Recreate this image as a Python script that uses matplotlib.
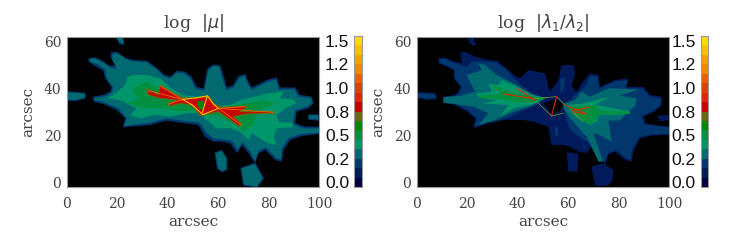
import matplotlib
matplotlib.use("Agg")
import matplotlib.pyplot as plt
import numpy as np

# contour outlines, in arcsec
mu_blue = [(8.6,52.8),(10.6,53.3),(13.9,52.1),(16.5,49.9),(19.2,49.7),(17.4,53.2),(17.4,55.3),(19.8,55.6),(23.1,53.2),(26.4,52.1),(31.7,51.8),(35.7,48.8),(38.3,46.1),(41,45),(43.6,47.5),(46.9,47.1),(49.5,45),(51.5,40.7),(54.2,40),(55.7,48.5),(58.1,50.2),(60.8,49.9),(62.1,45.7),(63.4,40.4),(65.8,41.4),(68,45.3),(70.7,46.1),(72,42.9),(73.3,40.4),(79.3,43.6),(83.2,44.7),(84.5,40.4),(90.5,40.4),(92.5,37.2),(97.1,36.5),(97.8,33.6),(95.8,31.5),(91.1,30.1),(90.5,25.1),(94.5,23.7),(100,23.7),(100,20.6),(93.1,19.7),(88.5,18),(85.9,13.8),(85.2,8.8),(82.6,9.5),(78.6,13.8),(76,12.4),(74.6,8.1),(72,12.4),(69.4,15.9),(67.6,12.4),(64.7,16.6),(61.4,17.3),(58.1,17.3),(54.8,19.4),(52.2,24.4),(46.9,25.1),(39.6,26.3),(33,24.4),(22.2,23.4),(23.1,27.2),(19.8,30.8),(14.5,33.3),(10.6,34.3),(10.3,36.5),(14.5,37.2),(17.2,38.6),(17.8,40.4),(15.2,44.3),(14.5,47.5),(11.2,49.5),(8.6,51.4)]
mu_teal = [(9.2,52.4),(11.2,52.8),(14.5,50.9),(17.8,48.5),(19.8,48.5),(18.1,52.1),(18.2,54.6),(20.1,54.9),(23.5,52.4),(26.4,51.4),(31.7,51.1),(35.4,48.2),(38.3,45.3),(41,44.1),(43.6,46.7),(46.5,46.4),(49.1,44.1),(50.9,40),(54.4,39),(56.1,47.8),(58.1,49.5),(60.5,49.2),(61.4,45.3),(63.1,39.3),(66,40.4),(68.4,44.4),(70.4,45.3),(71.6,42.1),(73.3,39.3),(79.3,42.7),(83,43.8),(83.9,39.6),(90.1,39.6),(91.8,36.5),(96.7,35.8),(97.1,33.9),(95.1,32.2),(90.5,30.8),(89.6,24.8),(93.8,22.9),(100,22.9),(100,21.1),(92.9,20.6),(87.8,18.7),(85.2,14.5),(84.8,9.8),(83,10.5),(78.9,14.9),(76,13.5),(74.6,9.2),(72.4,13.5),(69.6,17.3),(67.8,13.8),(65.4,17.7),(61.8,18.3),(58.1,18.7),(55.5,20.9),(52.8,25.4),(46.9,26.1),(39.6,27.2),(33,25.4),(22.7,24),(23.8,27.2),(20.5,31.5),(15.2,33.9),(11.2,35),(11,35.9),(15.2,36.6),(17.8,38.2),(18.5,40.4),(15.9,44.3),(15.2,48.1),(11.9,50.4),(9.2,51.4)]
mu_seagreen = [(23.8,44.7),(26.4,45.7),(31.7,45.7),(37,44.3),(41,40.4),(45.6,37.2),(51.5,36.5),(56.1,36.5),(59.4,32.5),(64.7,32.9),(68.7,35),(74.6,36.5),(79.3,37.9),(85.9,38.6),(84.5,35.8),(89.8,35.3),(90.9,33.6),(87.2,31.9),(83.2,28.7),(83.9,25.8),(89.8,25.1),(89.2,23.4),(83.2,23),(81.9,19.4),(83.2,15.9),(79.9,16.6),(76.6,18.7),(73.3,20.9),(72,18),(68.7,21.6),(64.7,23),(59.4,23),(55.5,26.5),(52.8,29.4),(47.6,29.4),(41,28),(34.3,28.7),(29.1,27.2),(25.1,28.7),(27.7,31.5),(21.1,35),(15.9,35.8),(18.5,37.2),(22.5,40.7),(23.8,42.9)]
mu_green = [(26.4,40),(31.7,42.9),(36.3,40),(41,37.2),(47.6,35),(52.8,35),(58.1,32.9),(63.4,31.9),(71.3,33.6),(77.9,35),(83.2,33.6),(77.9,31.5),(75.3,28.7),(74,24.4),(70,21.6),(66,25.1),(60.8,28),(55.5,28.7),(51.5,30.8),(44.9,30.1),(38.3,31.5),(30.4,31.5),(23.8,33.6),(29.1,35.8),(26.4,37.9)]
mu_red = [(31.7,40),(36.3,37.2),(37,41.4),(42.3,37.9),(46.2,35.8),(54.2,36.2),(56.1,36.9),(58.1,33.6),(60.8,31.9),(66,32.2),(72,32.5),(68.7,30.1),(81.9,30.1),(81.9,29.4),(71.3,29.1),(66,28),(69.4,24.8),(68,24),(63.4,27.7),(60.1,30.1),(54.2,28.7),(52.8,28.4),(49.5,32.9),(44.9,33.6),(41,32.5),(40.3,33.6),(43.6,35),(37,35.8),(32.4,37.2)]
mu_hole = [(51.5,34.5),(54.5,34.8),(53.8,31),(52.5,31)]
mu_blobs = [
    [(19.8,61.7),(22.2,61.7),(22.7,58.7),(20.9,59.2)],
    [(0,38.6),(7.3,37.9),(7.3,35.8),(3.3,34.8),(0,35)],
    [(95.8,28.7),(99.7,28.7),(99.7,26.5),(95.8,26.8)],
    [(58.8,12.6),(61.4,13.5),(63.4,10.2),(63.4,5.3),(61.4,4.6),(59.7,6)],
    [(69,6),(74.6,8.1),(77.9,1.7),(75.3,-2),(70,-1.1)],
]
mu_ridges_orange = [
    [(32.4,39),(45.8,35.3)],
    [(37,41),(45.8,35.3)],
    [(40.3,33.3),(45.8,35.3)],
    [(60.1,31.5),(81.9,29.8)],
    [(60.1,31.5),(70.7,32.2)],
    [(60.1,31.5),(69,24.5)],
]
mu_ridges_yellow = [
    [(45.8,35.3),(50.9,35.9),(55.7,36.8),(58.1,33.3),(60.1,31.5),(53.9,28.8),(49.8,32.9),(45.8,35.3)],
    [(55.7,36.8),(53.6,29.4)],
]

lam_navy = [(8.6,52.8),(11.2,53.2),(15.2,51.4),(17.9,50.7),(17.2,55.2),(19.2,55.6),(23.1,53.5),(28.4,52.1),(31.7,51.8),(35.7,48.5),(38.4,45.7),(41,44.3),(44.3,47.8),(50.9,46.4),(52.1,40.7),(52.8,38.6),(56.1,43.6),(57.4,49.9),(62,49.9),(62.7,46.4),(61.4,40.7),(63.4,38.6),(65.3,42.1),(68.6,46.4),(72,45.7),(72.6,40.7),(78.6,43.6),(83.9,44.3),(83.2,40.7),(89.8,40.7),(92.5,37.2),(97.1,36.5),(97.1,32.9),(94.4,30.1),(89.8,28),(90.9,24.8),(100,23.7),(100,20.2),(93.1,19.9),(88.5,18.7),(85.8,13.1),(85.2,8.8),(82.5,9.5),(78.6,13.1),(75.9,11.7),(74.6,7.4),(72.6,10.9),(69.3,15.2),(67.3,12.4),(64,13.1),(60.7,15.2),(58.1,15.9),(53.4,15.9),(52.1,23.7),(46.3,25.8),(42.3,26.5),(34.4,26.5),(27.8,24.8),(22.5,23),(23.1,27.2),(19.8,30.1),(15.2,32.9),(10.6,33.9),(10.3,36.5),(15.2,37.2),(16.5,38.6),(17.2,40.7),(14.6,44.3),(14.6,47.8),(11.2,49.5),(8.6,50.7)]
lam_blue_left = [(9,52.4),(11.2,52.6),(15.2,50.7),(19.8,49.2),(21.8,51.4),(28.4,51.4),(31.7,50.9),(35.7,47.8),(39.7,42.9),(45.6,37.9),(50.9,35.8),(47.6,32.9),(42.3,30.8),(35.7,27.2),(27.8,25.4),(22.8,23.7),(23.8,27.2),(20.5,30.5),(15.2,33.3),(10.8,34.3),(10.8,36.2),(15.2,36.8),(17.2,38.6),(17.9,40.7),(15.2,44.3),(14.9,48.1),(11.6,49.9),(9,50.9)]
lam_blue_right = [(58.7,32.9),(62,36.5),(66.7,40.7),(68.6,45.3),(71.6,45),(72.3,40),(78.6,42.9),(83.5,43.6),(82.5,40),(89.5,40),(92.2,36.5),(96.7,35.8),(96.4,32.9),(93.8,30.5),(89.1,28.2),(90.1,24.8),(100,23.4),(100,20.6),(93.1,20.4),(88.2,19.4),(85.2,13.8),(84.8,9.5),(82.9,10.2),(79,13.8),(75.9,12.6),(74.6,8.4),(70,15.9),(66,18),(60.7,22.3),(58.7,28.7)]
lam_teal_left = [(10.6,36.2),(17.2,36.8),(23.1,38.6),(19.8,45.7),(25.8,47.8),(24.5,50.7),(27.1,49.9),(31.7,45.7),(38.4,42.1),(45,37.9),(50.9,35.8),(45.6,32.5),(38.4,30.1),(31.1,26.5),(24.5,24.4),(28.4,29.4),(22.5,32.2),(15.9,33.2),(10.6,33.9)]
lam_teal_right = [(58.1,33.6),(62.7,35),(65.3,38.6),(68.6,36.5),(75.9,40),(87.8,39.6),(80.5,36.8),(87.2,35.8),(86.5,32.5),(81.9,28),(80.5,26.3),(75.9,26.3),(77.2,17.3),(72.6,20.2),(70,20.9),(73.9,8.8),(72,8.8),(67.3,19.4),(60.7,27.3),(58.1,31.5)]
lam_seagreen_left = [(23.8,37.9),(29.8,38.6),(28.4,42.1),(32.4,41.4),(33.7,43.6),(39.7,40.7),(45.6,37.2),(50.9,35.8),(45.6,33.2),(38.4,31.5),(33.1,28.2),(36.4,32.9),(25.8,33.6),(31.7,34.8),(24.5,36.2)]
lam_seagreen_right = [(59.4,32.9),(66,33.6),(76.6,36.5),(70.6,33),(84.5,30.1),(81.9,28.7),(72,28.7),(71.3,25.8),(68.6,24.4),(62,28.7)]
lam_green_left = [(24.5,36.8),(33.7,37.6),(29.4,41.7),(35,39.3),(39.7,37.9),(45.6,36.5),(51.3,35.8),(45.6,33.9),(39.7,34.1),(32.4,35.5),(25.1,35.8)]
lam_green_right = [(60,32.2),(66,32.5),(70.6,32.9),(72.6,30.5),(84.5,30.1),(84.5,29.1),(72,28.7),(69.3,24.4),(64,27.3)]
lam_hole = [(50.1,33.6),(55.4,35.8),(58.1,32.9),(56.7,30.1),(53.4,29.1)]
lam_navy_blobs = [
    [(19.8,61.3),(22.5,61.3),(23.5,58),(21.2,58.9)],
    [(95.4,28.4),(99.7,28.7),(99.7,26.5),(96.2,25.9)],
    [(59.4,12.8),(64,12.2),(63.6,4.6),(60,4.6)],
    [(69.3,6.7),(73.9,8.1),(77.9,5.3),(77.6,1),(75.9,-1.4),(70.6,-1.4)],
]
lam_blue_blobs = [
    [(0,38.2),(7.3,37.9),(7.7,35.5),(4,35.3),(0,36.2)],
    [(56.7,44.3),(59.1,45),(58.3,38.6),(56.7,37.9)],
    [(54.5,23.7),(56.2,23.7),(56.1,19.4),(54.6,19.7)],
    [(65.3,17.6),(67.3,14.3),(66.7,13.6),(64.9,17)],
]
lam_red_lines = [
    [(34.7,37.6),(46.3,35.5)],
    [(39.7,40),(47,34.8)],
    [(58.7,32.9),(66.7,29.4)],
    [(61.4,30.5),(68.6,32)],
    [(62,30),(67.3,29)],
    [(55.4,36.5),(53.4,28.2)],
]
lam_thin_lines = [
    [(46.3,35.6),(55.4,36.5),(58.7,32.9)],
    [(47.6,34.3),(53.4,28.2),(58.3,29.5)],
    [(62,30),(66,25.8)],
]

# colour table, one band per 0.1
bar_levels = np.arange(-0.05, 1.6, 0.1)
bar_colors = ['#00003c', '#001a5c', '#00386e', '#006a70', '#00966a', '#009040', '#008800', '#6a6a10',
              '#c80000', '#e02800', '#d84400', '#e86000', '#f08800', '#f8a000', '#ffc000', '#ffdc00']
bar_ticks = [0.0, 0.25, 0.5, 0.75, 1.0, 1.25, 1.5]
bar_labels = ['0.0', '0.2', '0.5', '0.8', '1.0', '1.2', '1.5']
x_ticks = [0, 20, 40, 60, 80, 100]
y_ticks = [0, 20, 40, 60]

W, H = 738., 245.
fig = plt.figure(figsize=(7.38, 2.45), dpi=100, facecolor='w')
text_col = '#444444'


def pos(x0, y0, x1, y1):
    return [x0 / W, 1 - y1 / H, (x1 - x0) / W, (y1 - y0) / H]


def make_panel(x0, bar_x0, title):
    ax = fig.add_axes(pos(x0, 36.7, x0 + 252.5, 187))
    ax.set_facecolor('k')
    ax.set_xlim(0, 100)
    ax.set_ylim(-2, 62)
    ax.set_xticks(x_ticks)
    ax.set_yticks(y_ticks)
    ax.tick_params(length=0, labelcolor=text_col, labelsize=10)
    ax.tick_params(axis='x', pad=7)
    ax.tick_params(axis='y', pad=4)
    for lab in ax.get_xticklabels() + ax.get_yticklabels():
        lab.set_family('DejaVu Serif')
    for s in ax.spines.values():
        s.set_color('#999999')
        s.set_linewidth(0.8)
    ax.set_xlabel('arcsec', family='DejaVu Serif', fontsize=11, color=text_col, labelpad=3)
    ax.set_ylabel('arcsec', family='DejaVu Serif', fontsize=11, color=text_col, labelpad=6)
    ax.set_title(title, family='DejaVu Serif', fontsize=12.5, color=text_col, pad=6)

    cax = fig.add_axes(pos(bar_x0, 36, bar_x0 + 7.5, 187))
    z = np.array([(bar_levels[:-1] + bar_levels[1:]) / 2]).T
    cax.pcolormesh([0, 1], bar_levels, z, cmap=matplotlib.colors.ListedColormap(bar_colors),
                   vmin=bar_levels[0], vmax=bar_levels[-1])
    cax.set_xticks([])
    cax.set_yticks(bar_ticks)
    cax.set_yticklabels(bar_labels, family='Liberation Sans', fontsize=12.5, color='#111111')
    cax.tick_params(length=0, pad=3.5)
    for s in cax.spines.values():
        s.set_color('#999999')
        s.set_linewidth(0.8)
    return ax


def fill(ax, polys, col, edge=None):
    for p in polys:
        xs, ys = zip(*p)
        ax.fill(xs, ys, color=col, lw=0 if edge is None else 0.8, ec=edge, clip_on=True)


def lines(ax, paths, col, lw):
    for p in paths:
        xs, ys = zip(*p)
        ax.plot(xs, ys, color=col, lw=lw, solid_capstyle='round')


ax1 = make_panel(66.7, 354, r'log  $|\mu|$')
fill(ax1, [mu_blue], bar_colors[2])
fill(ax1, mu_blobs, bar_colors[3], edge=bar_colors[2])
fill(ax1, [mu_teal], bar_colors[3])
fill(ax1, [mu_seagreen], bar_colors[4])
fill(ax1, [mu_green], bar_colors[5])
fill(ax1, [mu_red], bar_colors[8], edge=bar_colors[7])
fill(ax1, [mu_hole], bar_colors[6])
lines(ax1, mu_ridges_orange, bar_colors[11], 0.7)
lines(ax1, mu_ridges_yellow, bar_colors[14], 0.8)

ax2 = make_panel(416.7, 700.7, r'log  $|\lambda_1/\lambda_2|$')
fill(ax2, [lam_navy], bar_colors[1])
fill(ax2, lam_navy_blobs, bar_colors[1])
fill(ax2, lam_blue_blobs, bar_colors[2], edge=bar_colors[1])
fill(ax2, [lam_blue_left, lam_blue_right], bar_colors[2])
fill(ax2, [lam_teal_left, lam_teal_right], bar_colors[3])
fill(ax2, [lam_seagreen_left, lam_seagreen_right], bar_colors[4])
fill(ax2, [lam_green_left, lam_green_right], bar_colors[5])
fill(ax2, [lam_hole], 'k')
lines(ax2, lam_thin_lines, '#70a020', 0.5)
lines(ax2, lam_red_lines, bar_colors[9], 0.8)

fig.savefig('out.png', dpi=100)
